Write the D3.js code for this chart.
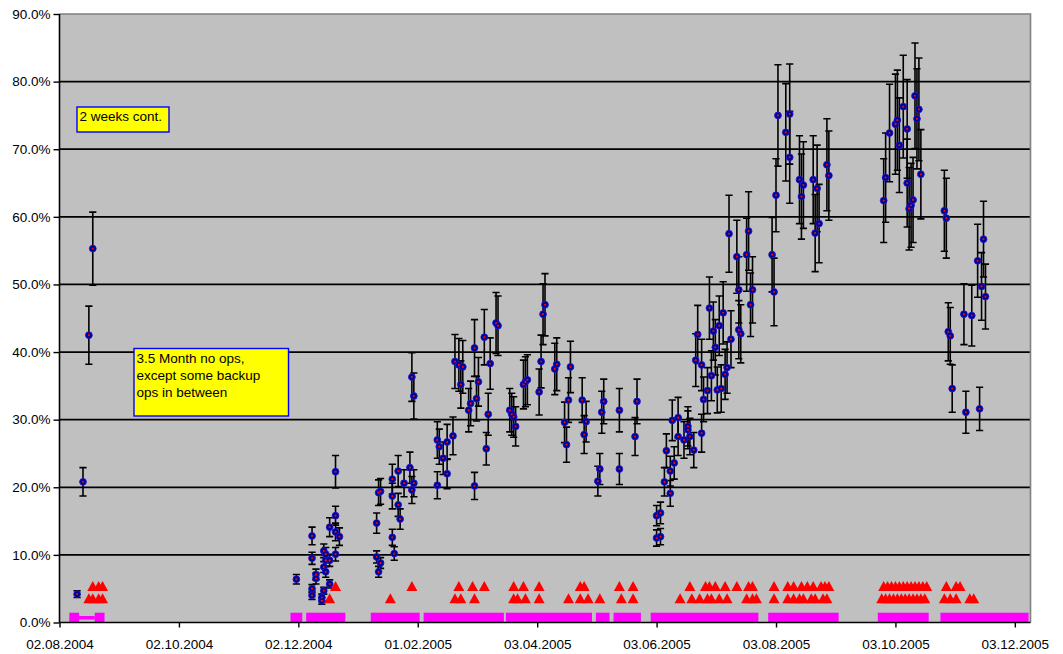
<!DOCTYPE html>
<html>
<head>
<meta charset="utf-8">
<script src="https://cdn.jsdelivr.net/npm/d3@7"></script>
<style>
  body { margin: 0; background: #fff; }
  svg { display: block; }
  text { font-family: "Liberation Sans", Arial, sans-serif; }
</style>
</head>
<body>
<svg id="chart" width="1063" height="654"></svg>
<script>
// ---------- data ----------
// measurement dates, rates (%) and their error (+/- %)
const sampleDates = [
  "2004-08-11","2004-08-14","2004-08-17","2004-08-19",
  "2004-12-01","2004-12-09","2004-12-09","2004-12-09","2004-12-09","2004-12-11","2004-12-11",
  "2004-12-14","2004-12-14","2004-12-15","2004-12-15","2004-12-15","2004-12-16","2004-12-16","2004-12-16",
  "2004-12-18","2004-12-18","2004-12-18","2004-12-21","2004-12-21","2004-12-21","2004-12-21","2004-12-23",
  "2005-01-11","2005-01-11","2005-01-12","2005-01-12","2005-01-13","2005-01-13","2005-01-19","2005-01-19",
  "2005-01-19","2005-01-20","2005-01-22","2005-01-22","2005-01-23","2005-01-25","2005-01-28","2005-01-29",
  "2005-01-29","2005-01-30","2005-01-30",
  "2005-02-11","2005-02-11","2005-02-12","2005-02-14","2005-02-16","2005-02-16","2005-02-19","2005-02-20",
  "2005-02-22","2005-02-23","2005-02-24","2005-02-27","2005-02-28","2005-03-02","2005-03-02","2005-03-03",
  "2005-03-04","2005-03-07","2005-03-08","2005-03-09","2005-03-10","2005-03-13","2005-03-14","2005-03-20",
  "2005-03-21","2005-03-22","2005-03-23","2005-03-27","2005-03-28","2005-03-29",
  "2005-04-04","2005-04-05","2005-04-06","2005-04-07","2005-04-12","2005-04-13","2005-04-17","2005-04-18",
  "2005-04-19","2005-04-20","2005-04-26","2005-04-27","2005-04-28",
  "2005-05-04","2005-05-05","2005-05-06","2005-05-07","2005-05-15","2005-05-15","2005-05-23","2005-05-24",
  "2005-06-03","2005-06-03","2005-06-05","2005-06-05","2005-06-07","2005-06-08","2005-06-10","2005-06-10",
  "2005-06-11","2005-06-12","2005-06-14","2005-06-14","2005-06-17","2005-06-19","2005-06-19","2005-06-20",
  "2005-06-22","2005-06-23","2005-06-24","2005-06-26","2005-06-26","2005-06-27","2005-06-29","2005-06-30",
  "2005-07-01","2005-07-02","2005-07-03","2005-07-04","2005-07-05","2005-07-06","2005-07-07","2005-07-08",
  "2005-07-09","2005-07-10","2005-07-11","2005-07-14","2005-07-15","2005-07-15","2005-07-16","2005-07-19",
  "2005-07-20","2005-07-21","2005-07-22",
  "2005-08-01","2005-08-02","2005-08-03","2005-08-04","2005-08-08","2005-08-10","2005-08-10","2005-08-15",
  "2005-08-16","2005-08-17","2005-08-22","2005-08-23","2005-08-24","2005-08-25","2005-08-29","2005-08-30",
  "2005-09-27","2005-09-28","2005-09-30","2005-10-03","2005-10-04","2005-10-05","2005-10-07","2005-10-09",
  "2005-10-09","2005-10-10","2005-10-11","2005-10-12","2005-10-13","2005-10-14","2005-10-15","2005-10-16",
  "2005-10-28","2005-10-29","2005-10-30","2005-10-31","2005-11-01","2005-11-07","2005-11-08","2005-11-11",
  "2005-11-14","2005-11-15","2005-11-16","2005-11-17","2005-11-18"
];
const sampleRates = [
  4.2, 20.8, 42.5, 55.3,
  6.4, 12.8, 9.5, 5.0, 4.0, 7.1, 6.5,
  3.2, 3.7, 10.6, 8.2, 4.7, 9.2, 7.5, 10.1,
  14.1, 9.2, 5.7, 22.3, 15.8, 13.4, 10.1, 12.7,
  14.7, 9.7, 19.2, 7.5, 19.4, 8.8, 21.2, 18.7,
  12.6, 10.2, 22.4, 17.4, 15.3, 20.6, 22.9, 36.3,
  19.6, 33.5, 20.6,
  27.0, 20.3, 26.0, 24.3, 26.7, 22.0, 27.6, 38.6,
  38.1, 35.2, 37.8, 31.4, 32.4, 20.2, 40.6, 33.1,
  35.6, 42.2, 25.7, 30.8, 38.3, 44.3, 43.9, 31.4,
  30.8, 30.4, 29.0, 35.2, 35.6, 35.9,
  34.1, 38.6, 45.6, 47.0, 37.5, 38.2, 29.6, 26.3,
  32.9, 37.8, 32.9, 27.8, 29.7,
  20.9, 22.7, 31.1, 32.7, 22.7, 31.4, 27.5, 32.7,
  12.5, 15.8, 12.7, 16.2, 20.8, 25.4, 22.4, 19.1,
  29.9, 23.6, 27.5, 30.3, 27.0, 29.0, 28.5, 27.5,
  25.5, 38.8, 42.6, 28.0, 38.1, 33.0, 34.3, 46.5,
  36.5, 43.1, 40.7, 34.4, 43.9, 34.6, 45.8, 36.7,
  37.7, 57.5, 41.9, 54.1, 43.3, 49.2, 42.7, 54.4,
  57.9, 47.0, 49.2,
  54.4, 48.9, 63.2, 75.0, 72.5, 75.2, 68.8, 65.5,
  63.0, 64.7, 65.5, 57.6, 64.2, 59.0, 67.7, 66.1,
  62.4, 65.8, 72.4, 73.7, 74.3, 70.6, 76.3, 65.0,
  73.0, 61.2, 61.7, 62.5, 77.9, 74.5, 75.9, 66.3,
  60.9, 59.8, 43.0, 42.4, 34.6, 45.6, 31.1, 45.4,
  53.5, 31.6, 49.7, 56.7, 48.2
];
const sampleErrors = [
  0.5, 2.1, 4.3, 5.4,
  0.7, 1.3, 0.9, 0.6, 0.6, 0.8, 0.8,
  0.5, 0.5, 1.0, 0.8, 0.5, 0.9, 0.8, 1.0,
  1.4, 0.9, 0.6, 2.4, 1.4, 1.3, 1.0, 1.3,
  1.5, 0.9, 1.9, 0.8, 1.9, 0.8, 2.2, 1.9,
  1.2, 1.0, 2.3, 1.7, 1.5, 2.0, 2.3, 3.6,
  2.0, 3.4, 2.0,
  2.7, 2.0, 2.6, 2.4, 2.6, 2.2, 2.8, 4.0,
  3.9, 3.5, 3.9, 3.2, 3.3, 2.0, 4.2, 3.3,
  3.6, 4.1, 2.4, 3.1, 3.8, 4.5, 4.4, 3.2,
  3.1, 3.0, 2.9, 3.6, 3.7, 3.7,
  3.4, 3.9, 4.5, 4.6, 3.8, 3.9, 3.0, 2.6,
  3.3, 3.8, 3.3, 2.8, 3.0,
  2.2, 2.3, 3.1, 3.3, 2.3, 3.2, 2.8, 3.3,
  1.2, 1.5, 1.2, 1.6, 2.1, 2.5, 2.2, 1.9,
  3.0, 2.4, 2.8, 3.0, 2.7, 2.9, 2.8, 2.7,
  2.6, 3.9, 4.3, 2.8, 3.8, 3.3, 3.4, 4.6,
  3.7, 4.3, 4.1, 3.4, 4.4, 3.5, 4.6, 3.7,
  3.8, 5.7, 4.2, 5.4, 4.3, 4.9, 4.3, 5.4,
  5.8, 4.7, 4.9,
  5.5, 5.0, 5.4, 7.5, 7.2, 7.4, 6.8, 6.5,
  6.3, 6.4, 6.5, 5.7, 6.4, 5.8, 6.8, 6.6,
  6.2, 6.6, 7.2, 7.4, 7.4, 7.0, 7.6, 6.5,
  7.3, 6.1, 6.2, 6.3, 7.8, 7.4, 7.6, 6.6,
  6.0, 5.9, 4.3, 4.2, 3.5, 4.5, 3.1, 4.5,
  5.4, 3.2, 5.0, 5.6, 4.8
];

// operation markers (red triangles) on two levels
const opsUpperLevel = 5.4;
const opsLowerLevel = 3.6;
const opsUpperDates = [
  "2004-08-19","2004-08-22","2004-08-24","2004-12-21","2005-01-29",
  "2005-02-22","2005-03-01","2005-03-07","2005-03-22","2005-03-27","2005-04-04",
  "2005-04-25","2005-04-27","2005-05-15","2005-05-22",
  "2005-06-20","2005-06-28","2005-06-30","2005-07-03","2005-07-08","2005-07-14","2005-07-20","2005-07-22",
  "2005-08-02","2005-08-09","2005-08-12","2005-08-16","2005-08-19","2005-08-22","2005-08-26","2005-08-28","2005-08-30",
  "2005-09-27","2005-09-29","2005-10-01","2005-10-03","2005-10-05","2005-10-07","2005-10-09","2005-10-11",
  "2005-10-13","2005-10-15","2005-10-17","2005-10-19",
  "2005-10-29","2005-11-03","2005-11-05"
];
const opsLowerDates = [
  "2004-08-17","2004-08-19","2004-08-22","2004-08-24","2004-12-18","2005-01-18",
  "2005-02-20","2005-02-23","2005-03-02","2005-03-22","2005-03-24","2005-03-28","2005-04-04",
  "2005-04-19","2005-04-25","2005-04-29","2005-05-05","2005-05-16","2005-05-22",
  "2005-06-15","2005-06-21","2005-06-25","2005-06-29","2005-07-01","2005-07-05","2005-07-09",
  "2005-07-19","2005-07-22","2005-07-24",
  "2005-08-02","2005-08-09","2005-08-12","2005-08-15","2005-08-17","2005-08-21","2005-08-23","2005-08-27","2005-08-29",
  "2005-09-26","2005-09-28","2005-09-30","2005-10-02","2005-10-04","2005-10-06","2005-10-08","2005-10-10",
  "2005-10-12","2005-10-14","2005-10-16","2005-10-18",
  "2005-10-28","2005-10-31","2005-11-03","2005-11-10","2005-11-12"
];

// periods of continuous operation (magenta band)
const runStarts = ["2004-08-07","2004-08-20","2004-11-28","2004-12-06","2005-01-08","2005-02-04",
                   "2005-03-18","2005-05-03","2005-05-12","2005-05-31","2005-07-30","2005-09-24","2005-10-26"];
const runEnds   = ["2004-08-12","2004-08-25","2004-12-04","2004-12-26","2005-02-02","2005-03-17",
                   "2005-05-01","2005-05-10","2005-05-26","2005-07-25","2005-09-04","2005-10-20","2005-12-10"];
const runBandTop = 1.45;
const linkStart = "2004-08-12", linkEnd = "2004-08-20", linkLevel = 0.7;

// axes
const yTickValues = [0, 10, 20, 30, 40, 50, 60, 70, 80, 90];
const xTickDates = ["2004-08-02","2004-10-02","2004-12-02","2005-02-01","2005-04-03",
                    "2005-06-03","2005-08-03","2005-10-03","2005-12-03"];
const xDomain = ["2004-08-02", "2005-12-11"];

// notes
const noteShort = ["2 weeks cont."];
const noteLong = ["3.5 Month no ops,", "except some backup", "ops in between"];

// ---------- drawing ----------
const parse = d3.utcParse("%Y-%m-%d");
const svg = d3.select("#chart");

const plot = { left: 59.5, right: 1030.5, top: 14, bottom: 622.5 };

const x = d3.scaleUtc()
  .domain(xDomain.map(parse))
  .range([plot.left, plot.right]);
const y = d3.scaleLinear()
  .domain([0, 90])
  .range([plot.bottom, plot.top]);

// plot background
svg.append("rect")
  .attr("x", plot.left).attr("y", plot.top)
  .attr("width", plot.right - plot.left).attr("height", plot.bottom - plot.top)
  .attr("fill", "#c0c0c0");

// horizontal gridlines
svg.append("g")
  .selectAll("line")
  .data(yTickValues.filter(v => v > 0 && v < 90))
  .join("line")
  .attr("x1", plot.left).attr("x2", plot.right)
  .attr("y1", d => y(d)).attr("y2", d => y(d))
  .attr("stroke", "#000").attr("stroke-width", 1.8);

// plot border (top/right)
svg.append("path")
  .attr("d", `M${plot.left},${y(90)}H${plot.right}V${plot.bottom}`)
  .attr("fill", "none").attr("stroke", "#808080").attr("stroke-width", 1.6);

// magenta run bands
const runs = runStarts.map((s, i) => ({ s: parse(s), e: parse(runEnds[i]) }));
svg.append("g")
  .selectAll("rect")
  .data(runs)
  .join("rect")
  .attr("x", d => x(d.s))
  .attr("width", d => x(d.e) - x(d.s))
  .attr("y", y(runBandTop))
  .attr("height", y(0) - y(runBandTop))
  .attr("fill", "#ff00ff");
svg.append("line")
  .attr("x1", x(parse(linkStart))).attr("x2", x(parse(linkEnd)))
  .attr("y1", y(linkLevel)).attr("y2", y(linkLevel))
  .attr("stroke", "#ff00ff").attr("stroke-width", 3.5);

// measurements
const samples = sampleDates.map((d, i) => ({
  date: parse(d), v: sampleRates[i], e: sampleErrors[i]
}));

const errG = svg.append("g").attr("stroke", "#000").attr("stroke-width", 1.6).attr("fill", "none");
errG.selectAll("path")
  .data(samples)
  .join("path")
  .attr("d", d => {
    const cx = x(d.date), y0 = y(d.v - d.e), y1 = y(d.v + d.e), c = 3.6;
    return `M${cx},${y0}V${y1}M${cx - c},${y1}H${cx + c}M${cx - c},${y0}H${cx + c}`;
  });

const markG = svg.append("g");
markG.selectAll("circle.m")
  .data(samples)
  .join("circle")
  .attr("class", "m")
  .attr("cx", d => x(d.date)).attr("cy", d => y(d.v))
  .attr("r", 3.4)
  .attr("fill", "#000090")
  .attr("stroke", "#1a1ad0").attr("stroke-width", 0.9);
markG.selectAll("circle.c")
  .data(samples)
  .join("circle")
  .attr("class", "c")
  .attr("cx", d => x(d.date)).attr("cy", d => y(d.v))
  .attr("r", 1.1)
  .attr("fill", "#ff0000");

// operation triangles
const ops = opsUpperDates.map(d => ({ date: parse(d), v: opsUpperLevel }))
  .concat(opsLowerDates.map(d => ({ date: parse(d), v: opsLowerLevel })));
svg.append("g")
  .selectAll("path")
  .data(ops)
  .join("path")
  .attr("d", d => {
    const cx = x(d.date), cy = y(d.v), w = 5.5, h = 5;
    return `M${cx},${cy - h}L${cx + w},${cy + h}L${cx - w},${cy + h}Z`;
  })
  .attr("fill", "#ff0000");

// axes
const fontSize = "13.5px";
const yAxis = svg.append("g")
  .attr("transform", `translate(${plot.left},0)`)
  .call(d3.axisLeft(y).tickValues(yTickValues).tickFormat(d => d.toFixed(1) + "%")
        .tickSize(6).tickPadding(3));
yAxis.select(".domain").attr("stroke", "#000").attr("stroke-width", 1.6).attr("d", `M0,${plot.top}V${plot.bottom}`);
yAxis.selectAll(".tick line").attr("stroke", "#000").attr("stroke-width", 1.4);
yAxis.selectAll("text").attr("font-size", fontSize).attr("fill", "#000").attr("font-family", null);

const xAxis = svg.append("g")
  .attr("transform", `translate(0,${plot.bottom})`)
  .call(d3.axisBottom(x).tickValues(xTickDates.map(parse))
        .tickFormat(d3.utcFormat("%d.%m.%Y"))
        .tickSize(5).tickPadding(12));
xAxis.select(".domain").attr("stroke", "#000").attr("stroke-width", 1.6).attr("d", `M${plot.left},0H${plot.right}`);
xAxis.selectAll(".tick line").attr("stroke", "#000").attr("stroke-width", 1.4);
xAxis.selectAll("text").attr("font-size", fontSize).attr("fill", "#000").attr("font-family", null);

// notes
function note(left, top, w, h, lines, lineStep) {
  const g = svg.append("g");
  g.append("rect")
    .attr("x", left).attr("y", top).attr("width", w).attr("height", h)
    .attr("fill", "#ffff00").attr("stroke", "#0000ff").attr("stroke-width", 1.4);
  g.selectAll("text")
    .data(lines)
    .join("text")
    .attr("x", left + 2.5)
    .attr("y", (d, i) => top + 14 + i * lineStep)
    .attr("font-size", fontSize)
    .attr("fill", "#000")
    .text(d => d);
}
note(77, 107, 92, 25, noteShort, 0);
note(134, 348.5, 154.5, 67.5, noteLong, 17.4);
</script>
</body>
</html>
